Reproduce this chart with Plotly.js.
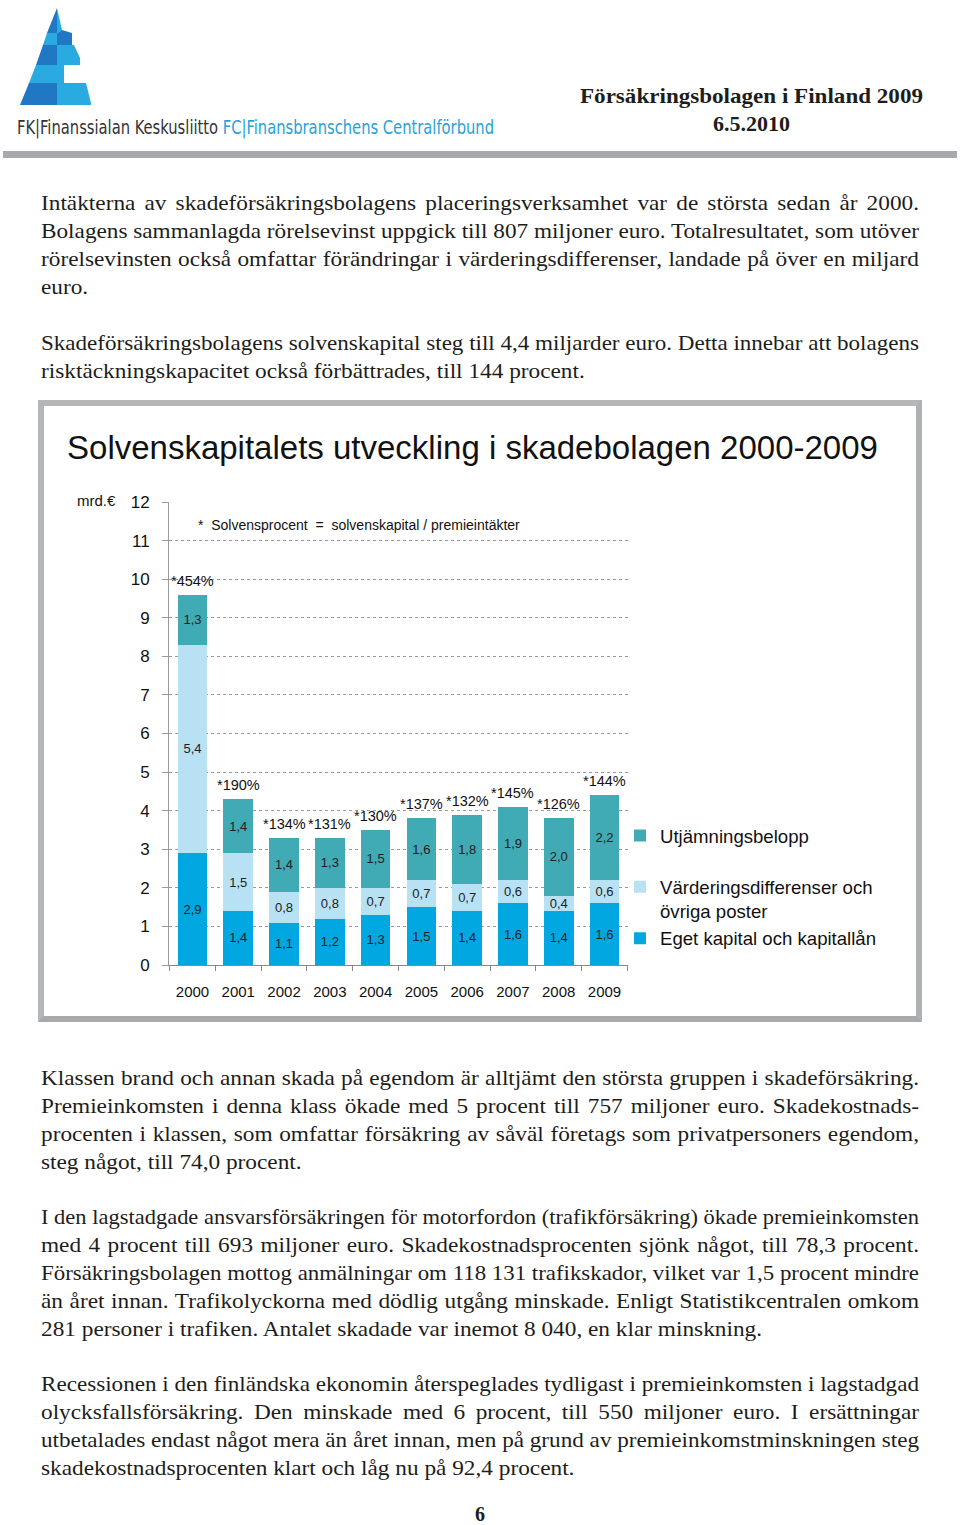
<!DOCTYPE html>
<html>
<head>
<meta charset="utf-8">
<script src="https://cdn.plot.ly/plotly-3.0.1.min.js"></script>
<style>
  html, body { margin:0; padding:0; background:#fff; }
  #page { position:relative; width:960px; height:1525px; overflow:hidden; background:#fff; }
  .abs { position:absolute; }
  .serif { font-family:"Liberation Serif","Times New Roman",serif; color:#1d1d1b; }
  .tline { position:absolute; left:41px; width:900px; font-size:21.5px; line-height:28px; white-space:nowrap; }
  .tline > span { display:inline-block; transform-origin:0 50%; }
  .fit { display:inline-block; white-space:nowrap; transform-origin:0 50%; }
  #rule { left:3px; top:151px; width:954px; height:7px; background:#a7a9ac; }
  #box { left:38px; top:400px; width:872px; height:610px; border:6px solid #b5b6b8; border-bottom-color:#a9aaac; border-right-color:#b0b1b3; }
  #chart { position:absolute; left:0; top:0; width:872px; height:610px; }
</style>
</head>
<body>
<div id="page">
  <!-- logo -->
  <svg class="abs" style="left:0;top:0" width="110" height="112" viewBox="0 0 110 112">
    <polygon points="57,8 57,33 47,33" fill="#2077c3"/>
    <polygon points="57,8 62,30 57,33" fill="#29abe2"/>
    <polygon points="47,33 57,33 57,45 43,45" fill="#29abe2"/>
    <polygon points="57,33 62,30 72,33 72,45 57,45" fill="#2077c3"/>
    <polygon points="43,45 57,45 57,65 36,65" fill="#2077c3"/>
    <polygon points="57,45 74,45 80,58 80,65 57,65" fill="#29abe2"/>
    <polygon points="36,65 57,65 57,83 29,83" fill="#29abe2"/>
    <polygon points="57,65 64,65 64,83 57,83" fill="#29abe2"/>
    <polygon points="29,83 57,83 57,105 20,105" fill="#2077c3"/>
    <polygon points="57,83 86,83 91,103 91,105 57,105" fill="#29abe2"/>
  </svg>
  <div class="abs" style="left:17px;top:114px;font-family:'DejaVu Sans';font-stretch:condensed;font-size:20px;line-height:26px;">
    <span class="fit" data-w="477"><span style="color:#333">FK|Finanssialan Keskusliitto </span><span style="color:#2a9fd8">FC|Finansbranschens Centralförbund</span></span>
  </div>
  <div class="abs serif" style="left:580px;top:82px;font-size:22px;font-weight:bold;line-height:28px;">
    <span class="fit" data-w="343">Försäkringsbolagen i Finland 2009</span>
  </div>
  <div class="abs serif" style="left:580px;width:343px;text-align:center;top:110px;font-size:22px;font-weight:bold;line-height:28px;">6.5.2010</div>
  <div id="rule" class="abs"></div>

  <div id="text"></div>

  <div id="box" class="abs"><div id="chart"></div></div>

  <div class="abs serif" style="left:430px;width:100px;text-align:center;top:1504px;height:20px;font-size:20px;font-weight:bold;line-height:20px;">6</div>
</div>

<script>
// ---------------- chart data ----------------
var years = ['2000','2001','2002','2003','2004','2005','2006','2007','2008','2009'];
var egetKapital = [2.9, 1.4, 1.1, 1.2, 1.3, 1.5, 1.4, 1.6, 1.4, 1.6];
var varderingsdiff = [5.4, 1.5, 0.8, 0.8, 0.7, 0.7, 0.7, 0.6, 0.4, 0.6];
var utjamning = [1.3, 1.4, 1.4, 1.3, 1.5, 1.6, 1.8, 1.9, 2.0, 2.2];
var solvensprocent = [454, 190, 134, 131, 130, 137, 132, 145, 126, 144];
var seriesNames = ['Eget kapital och kapitallån', 'Värderingsdifferenser och<br>övriga poster', 'Utjämningsbelopp<br>&nbsp;'];
var chartTitle = 'Solvenskapitalets utveckling i skadebolagen 2000-2009';
var unitLabel = 'mrd.€';
var footnote = '*  Solvensprocent  =  solvenskapital / premieintäkter';

// ---------------- page text ----------------
var paragraphs = [
  {base:210, lines:[
    'Intäkterna av skadeförsäkringsbolagens placeringsverksamhet var de största sedan år 2000.',
    'Bolagens sammanlagda rörelsevinst uppgick till 807 miljoner euro. Totalresultatet, som utöver',
    'rörelsevinsten också omfattar förändringar i värderingsdifferenser, landade på över en miljard',
    'euro.']},
  {base:350, lines:[
    'Skadeförsäkringsbolagens solvenskapital steg till 4,4 miljarder euro. Detta innebar att bolagens',
    'risktäckningskapacitet också förbättrades, till 144 procent.']},
  {base:1085, lines:[
    'Klassen brand och annan skada på egendom är alltjämt den största gruppen i skadeförsäkring.',
    'Premieinkomsten i denna klass ökade med 5 procent till 757 miljoner euro. Skadekostnads-',
    'procenten i klassen, som omfattar försäkring av såväl företags som privatpersoners egendom,',
    'steg något, till 74,0 procent.']},
  {base:1224, lines:[
    'I den lagstadgade ansvarsförsäkringen för motorfordon (trafikförsäkring) ökade premieinkomsten',
    'med 4 procent till 693 miljoner euro. Skadekostnadsprocenten sjönk något, till 78,3 procent.',
    'Försäkringsbolagen mottog anmälningar om 118 131 trafikskador, vilket var 1,5 procent mindre',
    'än året innan. Trafikolyckorna med dödlig utgång minskade. Enligt Statistikcentralen omkom',
    '281 personer i trafiken. Antalet skadade var inemot 8 040, en klar minskning.']},
  {base:1391, lines:[
    'Recessionen i den finländska ekonomin återspeglades tydligast i premieinkomsten i lagstadgad',
    'olycksfallsförsäkring. Den minskade med 6 procent, till 550 miljoner euro. I ersättningar',
    'utbetalades endast något mera än året innan, men på grund av premieinkomstminskningen steg',
    'skadekostnadsprocenten klart och låg nu på 92,4 procent.']}
];

var textHost = document.getElementById('text');
var LINE_W = 878, STRETCH = 1.083;
paragraphs.forEach(function(p){
  p.lines.forEach(function(t, i){
    var d = document.createElement('div');
    d.className = 'tline serif';
    d.style.top = (p.base + i*28 - 21) + 'px';
    var s = document.createElement('span');
    s.textContent = t;
    d.appendChild(s);
    textHost.appendChild(d);
    var last = (i === p.lines.length - 1);
    var w = s.getBoundingClientRect().width;
    var k = STRETCH;
    if (!last) {
      var nsp = (t.match(/ /g) || []).length;
      var need = LINE_W / k - w;
      if (need < 0) { k = LINE_W / w; need = 0; }
      if (nsp > 0) s.style.wordSpacing = (need / nsp) + 'px';
    }
    s.style.transform = 'scaleX(' + k + ')';
  });
});

document.querySelectorAll('.fit').forEach(function(el){
  var target = parseFloat(el.getAttribute('data-w'));
  var w = el.getBoundingClientRect().width;
  if (w > 0) el.style.transform = 'scaleX(' + (target / w) + ')';
});

// ---------------- plot ----------------
function lbl(v){ return v.toFixed(1).replace('.', ','); }
var colors = ['#00a7e1', '#b9e1f4', '#40aab5'];
var series = [egetKapital, varderingsdiff, utjamning];
var ranks = [3, 2, 1];
var data = series.map(function(vals, k){
  return {
    type:'bar', x:years, y:vals, name:seriesNames[k],
    marker:{color:colors[k], line:{width:0}},
    text:vals.map(lbl), textposition:'inside', insidetextanchor:'middle',
    textangle:0, constraintext:'none',
    textfont:{size:13, color:'#222', family:'Liberation Sans, Arial, sans-serif'},
    legendrank:ranks[k], hoverinfo:'skip'
  };
});

var totals = years.map(function(_, i){ return egetKapital[i] + varderingsdiff[i] + utjamning[i]; });
// on a category axis annotations take the category's serial number
var annotations = years.map(function(y, i){
  return {x:i, y:totals[i], xref:'x', yref:'y', text:'*' + solvensprocent[i] + '%',
    showarrow:false, yshift:14, font:{size:14.5, color:'#111'}};
});
annotations.push({xref:'paper', yref:'paper', x:-0.157, y:1.004, text:unitLabel,
  showarrow:false, xanchor:'center', yanchor:'middle', font:{size:15, color:'#111'}});
annotations.push({xref:'paper', yref:'paper', x:0.0588, y:0.950, text:footnote,
  showarrow:false, xanchor:'left', yanchor:'middle', font:{size:14, color:'#111'}});

var layout = {
  width:872, height:610,
  margin:{l:125, r:288, t:96, b:51, pad:0, autoexpand:false},
  paper_bgcolor:'#fff', plot_bgcolor:'#fff',
  font:{family:'Liberation Sans, Arial, sans-serif', color:'#111'},
  barmode:'stack', bargap:0.35,
  title:{text:chartTitle, xref:'container', yref:'container', x:0.0264, xanchor:'left',
    y:0.9328, yanchor:'middle', font:{size:33, color:'#111'}},
  xaxis:{type:'category', tickson:'boundaries', ticks:'outside', ticklen:5, tickcolor:'#888',
    showline:true, linecolor:'#888', linewidth:1, showgrid:false, tickfont:{size:15, color:'#111'},
    ticklabelstandoff:13, fixedrange:true},
  yaxis:{range:[0,12], dtick:1, tick0:0, showgrid:true, gridcolor:'#9a9a9a', griddash:'dot', gridwidth:1,
    ticks:'outside', ticklen:6, tickcolor:'#9a9a9a', showline:true, linecolor:'#9a9a9a', linewidth:1,
    zeroline:false, tickfont:{size:17, color:'#111'}, ticklabelstandoff:9, fixedrange:true},
  showlegend:true,
  legend:{x:0.9826, xanchor:'left', y:0.320, yanchor:'top', traceorder:'normal',
    valign:'top', font:{size:18.6, color:'#111'}, bgcolor:'rgba(0,0,0,0)'},
  annotations:annotations
};

Plotly.newPlot('chart', data, layout, {displayModeBar:false, staticPlot:true});
</script>
</body>
</html>
